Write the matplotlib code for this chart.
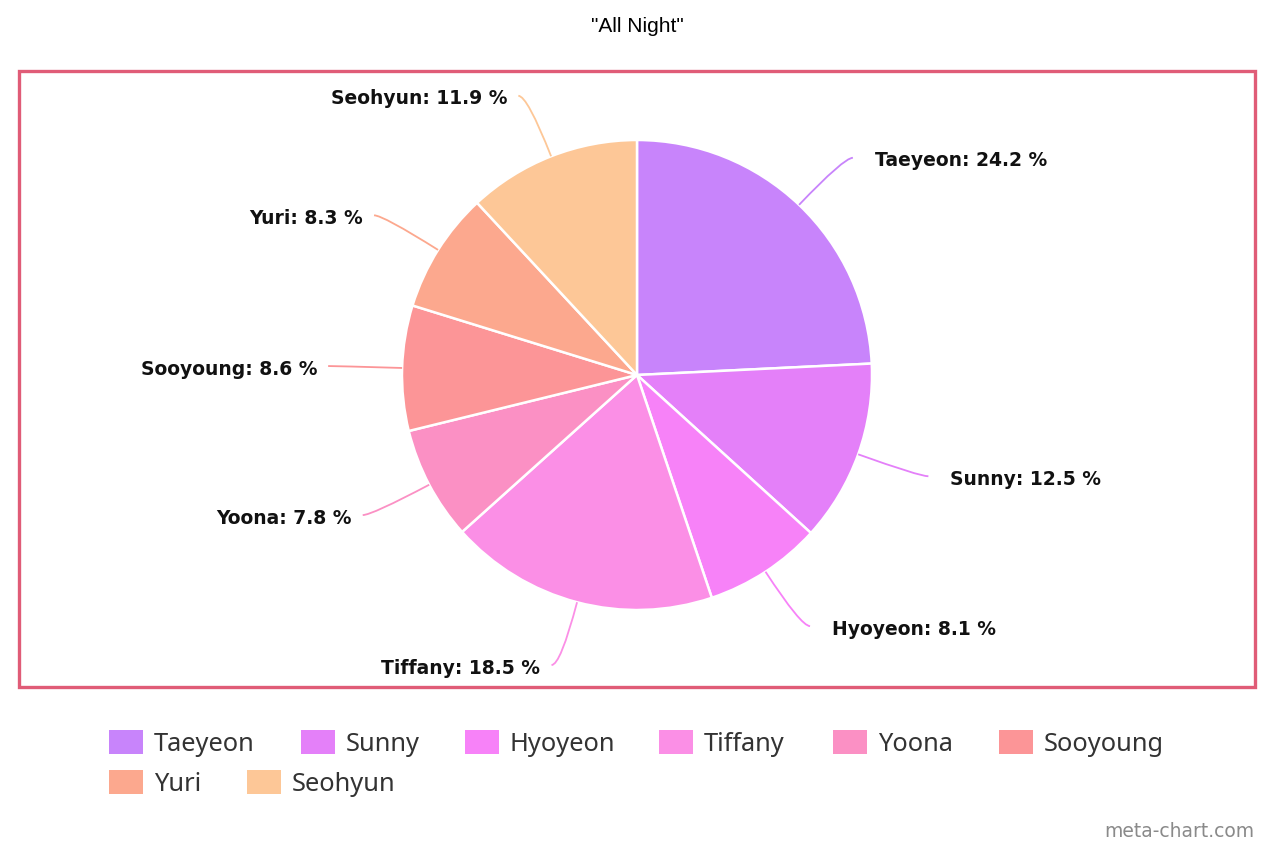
import numpy as np
import matplotlib
matplotlib.use('Agg')
from matplotlib import pyplot as plt
from matplotlib.patches import Rectangle, PathPatch
from matplotlib.path import Path

# data
members = ['Taeyeon', 'Sunny', 'Hyoyeon', 'Tiffany', 'Yoona', 'Sooyoung', 'Yuri', 'Seohyun']
shares = [24.2, 12.5, 8.1, 18.5, 7.8, 8.6, 8.3, 11.9]
colors = ['#c884fb', '#e480f9', '#f782f8', '#fb8fe6', '#fb90c4', '#fc9597', '#fca88e', '#fdc797']
title = '"All Night"'

W, H = 1276, 845
fig = plt.figure(figsize=(W / 100, H / 100), dpi=100)
ax = fig.add_axes([0, 0, 1, 1])

# work in pixel units (y flipped so y=0 is bottom)
cx, cy, R = 637, H - 376, 235
wedges, _ = ax.pie(shares, colors=colors, startangle=90, counterclock=False,
                   center=(cx, cy), radius=R,
                   wedgeprops=dict(edgecolor='white', linewidth=1.8))
ax.set_xlim(0, W)
ax.set_ylim(0, H)
ax.set_aspect('equal')
ax.axis('off')

# chart border
ax.add_patch(Rectangle((19, H - 688), 1236, 616, fill=False,
                       edgecolor='#e05c77', linewidth=2.4))

ax.text(cx, H - 26, title, ha='center', va='center', fontsize=15,
        family='Liberation Sans', color='#000000')

# labels with curved connectors
for w, name, val, col in zip(wedges, members, shares, colors):
    ang = np.deg2rad((w.theta1 + w.theta2) / 2)
    c, s = np.cos(ang), np.sin(ang)
    side = 1 if c >= 0 else -1
    p0 = (cx + R * c, cy + R * s)
    p1 = (cx + (R + 65) * c, cy + (R + 65) * s)
    p2 = (p1[0] + side * 9, p1[1])
    path = Path([p0, p1, p2], [Path.MOVETO, Path.CURVE3, Path.CURVE3])
    ax.add_patch(PathPatch(path, facecolor='none', edgecolor=col, linewidth=1.3))
    gap = 22 if side > 0 else 11
    ax.text(p2[0] + side * gap, p1[1] - 2, f'{name}: {val} %',
            ha='left' if side > 0 else 'right', va='center', fontsize=13.5,
            fontweight='bold', family='DejaVu Sans', color='#111111')

# legend (flow layout like the original)
leg_x = [109, 301, 465, 659, 833, 999, 109, 247]
leg_y = [743, 743, 743, 743, 743, 743, 783, 783]
for name, col, lx, ly in zip(members, colors, leg_x, leg_y):
    ax.add_patch(Rectangle((lx, H - ly - 12), 34, 24, facecolor=col, edgecolor='none'))
    ax.text(lx + 45, H - ly - 2, name, ha='left', va='center', fontsize=18.3,
            family='Noto Sans', color='#333333')

ax.text(1254, H - 832, 'meta-chart.com', ha='right', va='center', fontsize=13.5,
        family='DejaVu Sans', color='#8a8a8a')

fig.savefig('out.png', dpi=100, facecolor='white')
